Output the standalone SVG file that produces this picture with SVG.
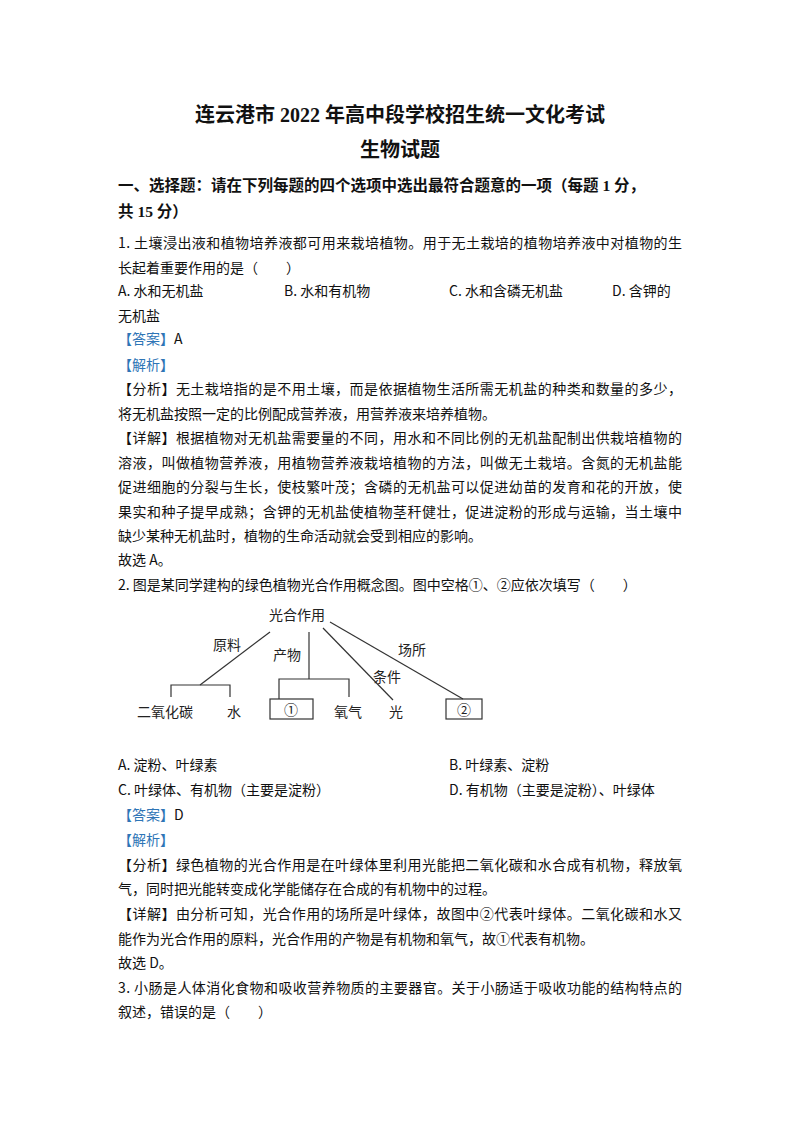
<svg xmlns="http://www.w3.org/2000/svg" width="800" height="1132" viewBox="0 0 800 1132">
<style>
text{font-family:"Noto Sans CJK SC","Liberation Serif",serif;fill:#111}
.b{font-size:14px}
.t{font-family:"Liberation Serif","Noto Sans CJK SC",serif;font-weight:bold;font-size:20px;text-anchor:middle}
.h{font-family:"Liberation Serif","Noto Sans CJK SC",serif;font-weight:bold;font-size:15.5px}
.blue{fill:#2e75b6}
.d{font-family:"Noto Sans CJK SC",sans-serif;font-size:14px;text-anchor:middle;fill:#222}
.l{stroke:#333;stroke-width:1.2;fill:none}
</style>
<rect width="800" height="1132" fill="#fff"/>
<text class="t" x="400" y="122">连云港市 2022 年高中段学校招生统一文化考试</text>
<text class="t" x="400" y="157">生物试题</text>
<text class="h" x="118" y="191">一、选择题：请在下列每题的四个选项中选出最符合题意的一项（每题 1 分，</text>
<text class="h" x="118" y="217">共 15 分）</text>
<g>
<text class="b" x="118" y="248" textLength="564">1. 土壤浸出液和植物培养液都可用来栽培植物。用于无土栽培的植物培养液中对植物的生</text>
<text class="b" x="118" y="273">长起着重要作用的是（　　）</text>
<text class="b" x="118" y="296">A. 水和无机盐</text>
<text class="b" x="284" y="296">B. 水和有机物</text>
<text class="b" x="449" y="296">C. 水和含磷无机盐</text>
<text class="b" x="612" y="296">D. 含钾的</text>
<text class="b" x="118" y="321">无机盐</text>
<text class="b" x="118" y="344"><tspan class="blue">【答案】</tspan>A</text>
<text class="b blue" x="118" y="370">【解析】</text>
<text class="b" x="118" y="394" textLength="564">【分析】无土栽培指的是不用土壤，而是依据植物生活所需无机盐的种类和数量的多少，</text>
<text class="b" x="118" y="419">将无机盐按照一定的比例配成营养液，用营养液来培养植物。</text>
<text class="b" x="118" y="443" textLength="564">【详解】根据植物对无机盐需要量的不同，用水和不同比例的无机盐配制出供栽培植物的</text>
<text class="b" x="118" y="468" textLength="564">溶液，叫做植物营养液，用植物营养液栽培植物的方法，叫做无土栽培。含氮的无机盐能</text>
<text class="b" x="118" y="492" textLength="564">促进细胞的分裂与生长，使枝繁叶茂；含磷的无机盐可以促进幼苗的发育和花的开放，使</text>
<text class="b" x="118" y="517" textLength="564">果实和种子提早成熟；含钾的无机盐使植物茎秆健壮，促进淀粉的形成与运输，当土壤中</text>
<text class="b" x="118" y="541">缺少某种无机盐时，植物的生命活动就会受到相应的影响。</text>
<text class="b" x="118" y="565">故选 A。</text>
<text class="b" x="118" y="590">2. 图是某同学建构的绿色植物光合作用概念图。图中空格①、②应依次填写（　　）</text>
</g>
<g id="connectors">
<line class="l" x1="270" y1="632" x2="200" y2="685"/>
<polyline class="l" points="171,697 171,685 230,685 230,697"/>
<line class="l" x1="309" y1="632" x2="309" y2="679"/>
<polyline class="l" points="279,699 279,679 349,679 349,697"/>
<line class="l" x1="323" y1="628" x2="393" y2="700"/>
<line class="l" x1="330" y1="622" x2="463" y2="699"/>
</g>
<g id="n-root"><text class="d" x="297" y="620">光合作用</text></g>
<g id="l-yl"><text class="d" x="227" y="650">原料</text></g>
<g id="l-cw"><text class="d" x="287" y="660">产物</text></g>
<g id="l-tj"><text class="d" x="387" y="682">条件</text></g>
<g id="l-cs"><text class="d" x="412" y="655">场所</text></g>
<g id="n-co2"><text class="d" x="165" y="717">二氧化碳</text></g>
<g id="n-water"><text class="d" x="234" y="717">水</text></g>
<g id="n-1"><rect class="l" x="270" y="699" width="43" height="20"/><text class="d" x="291" y="715">①</text></g>
<g id="n-o2"><text class="d" x="348" y="717">氧气</text></g>
<g id="n-light"><text class="d" x="396" y="717">光</text></g>
<g id="n-2"><rect class="l" x="446" y="699" width="36" height="20"/><text class="d" x="464" y="715">②</text></g>
<g>
<text class="b" x="118" y="770">A. 淀粉、叶绿素</text>
<text class="b" x="449" y="770">B. 叶绿素、淀粉</text>
<text class="b" x="118" y="795">C. 叶绿体、有机物（主要是淀粉）</text>
<text class="b" x="449" y="795">D. 有机物（主要是淀粉）、叶绿体</text>
<text class="b" x="118" y="820"><tspan class="blue">【答案】</tspan>D</text>
<text class="b blue" x="118" y="845">【解析】</text>
<text class="b" x="118" y="870" textLength="564">【分析】绿色植物的光合作用是在叶绿体里利用光能把二氧化碳和水合成有机物，释放氧</text>
<text class="b" x="118" y="894">气，同时把光能转变成化学能储存在合成的有机物中的过程。</text>
<text class="b" x="118" y="919" textLength="564">【详解】由分析可知，光合作用的场所是叶绿体，故图中②代表叶绿体。二氧化碳和水又</text>
<text class="b" x="118" y="944">能作为光合作用的原料，光合作用的产物是有机物和氧气，故①代表有机物。</text>
<text class="b" x="118" y="968">故选 D。</text>
<text class="b" x="118" y="993" textLength="564">3. 小肠是人体消化食物和吸收营养物质的主要器官。关于小肠适于吸收功能的结构特点的</text>
<text class="b" x="118" y="1017">叙述，错误的是（　　）</text>
</g>
</svg>
